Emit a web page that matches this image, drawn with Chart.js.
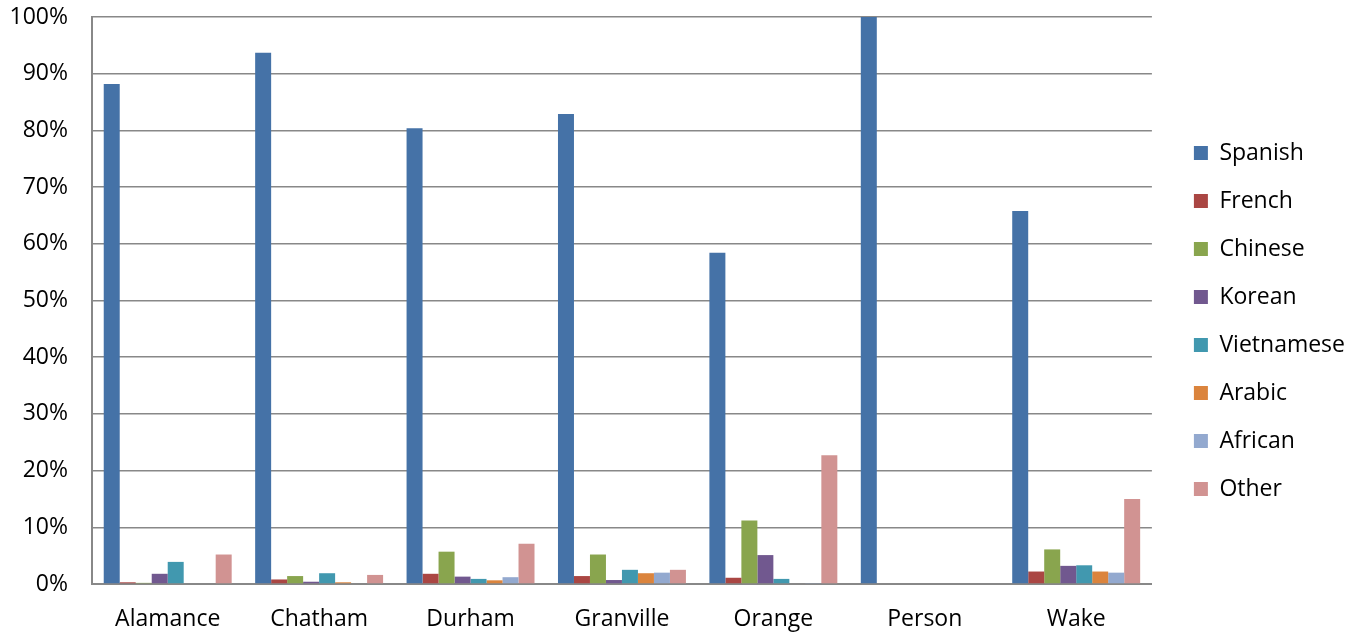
<!DOCTYPE html>
<html>
<head>
<meta charset="utf-8">
<script src="https://cdn.jsdelivr.net/npm/chart.js@4"></script>
<style>
  html, body { margin: 0; padding: 0; background: #fff; }
  #wrap { width: 1357px; height: 635px; }
</style>
</head>
<body>
<div id="wrap"><canvas id="chart"></canvas></div>
<script>
// Counties on the x axis
const counties = ['Alamance', 'Chatham', 'Durham', 'Granville', 'Orange', 'Person', 'Wake'];

// Share of speakers per language (%), one value per county
const spanish    = [88.2, 93.7, 80.4, 82.9, 58.4, 100, 65.8];
const french     = [0.3, 0.8, 1.8, 1.4, 1.1, 0, 2.2];
const chinese    = [0.2, 1.4, 5.7, 5.2, 11.2, 0, 6.1];
const korean     = [1.8, 0.4, 1.3, 0.7, 5.1, 0, 3.2];
const vietnamese = [3.9, 1.9, 0.9, 2.5, 0.9, 0, 3.3];
const arabic     = [0, 0.3, 0.65, 1.9, 0, 0, 2.2];
const african    = [0, 0, 1.2, 2.0, 0.1, 0, 2.0];
const other      = [5.2, 1.6, 7.1, 2.5, 22.7, 0, 15.0];

const yTicks = [0, 10, 20, 30, 40, 50, 60, 70, 80, 90, 100];

const series = [
    { label: 'Spanish', data: spanish, color: '#4572A7' },
    { label: 'French', data: french, color: '#AA4643' },
    { label: 'Chinese', data: chinese, color: '#89A54E' },
    { label: 'Korean', data: korean, color: '#71588F' },
    { label: 'Vietnamese', data: vietnamese, color: '#4198AF' },
    { label: 'Arabic', data: arabic, color: '#DB843D' },
    { label: 'African', data: african, color: '#93A9CF' },
    { label: 'Other', data: other, color: '#D19392' }
];

const font = { family: '"Open Sans", Lato, sans-serif', size: 23 };

// extra room between the plot and the legend, legend items stay at the right
const LEGEND_GAP = 17;
const legendGap = {
    id: 'legendGap',
    beforeLayout(chart) {
        const lg = chart.legend;
        if (!lg || lg._gapWrapped) return;
        lg._gapWrapped = true;
        const fit = lg.fit;
        lg.fit = function () { fit.call(this); this.width += LEGEND_GAP; };
        const draw = lg.draw;
        lg.draw = function () {
            this.ctx.save();
            this.ctx.translate(LEGEND_GAP, -5);
            draw.call(this);
            this.ctx.restore();
        };
    }
};

new Chart(document.getElementById('chart'), {
    type: 'bar',
    data: {
        labels: counties,
        datasets: series.map(s => ({
            label: s.label,
            data: s.data,
            backgroundColor: s.color,
            borderWidth: 0,
            barPercentage: 1,
            categoryPercentage: 0.845
        }))
    },
    plugins: [legendGap],
    options: {
        responsive: true,
        maintainAspectRatio: false,
        animation: false,
        layout: { padding: { top: 17, right: 2, left: 0, bottom: 0 } },
        plugins: {
            tooltip: { enabled: false },
            legend: {
                position: 'right',
                align: 'center',
                labels: {
                    color: '#000',
                    font: font,
                    boxWidth: 14,
                    boxHeight: 14,
                    padding: 25
                }
            }
        },
        scales: {
            x: {
                afterFit: axis => {
                    axis.paddingLeft = 0;
                    axis.paddingRight = 0;
                    axis.height = 51;
                },
                grid: { display: false, drawTicks: false },
                border: { color: '#888', width: 2 },
                ticks: { color: '#000', font: font, padding: 22, maxRotation: 0 }
            },
            y: {
                min: 0,
                max: 100,
                afterBuildTicks: axis => { axis.ticks = yTicks.map(v => ({ value: v })); },
                afterFit: axis => {
                    axis.paddingTop = 0;
                    axis.paddingBottom = 0;
                    axis.width = 92;
                },
                grid: { color: '#888', lineWidth: 1.5, drawTicks: false },
                border: { color: '#888', width: 2 },
                ticks: {
                    color: '#000',
                    font: font,
                    padding: 24,
                    callback: v => v + '%'
                }
            }
        }
    }
});
</script>
</body>
</html>
